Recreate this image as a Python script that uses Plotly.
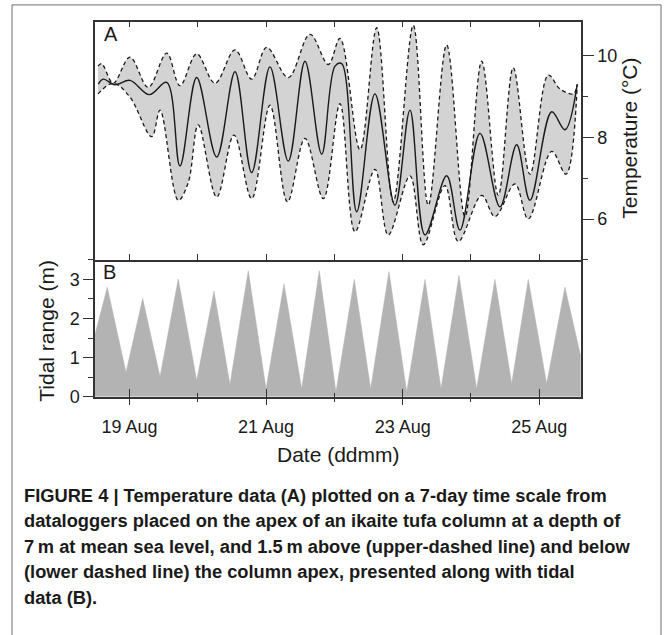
import numpy as np
import pandas as pd
import plotly.graph_objects as go

# ---- Temperature (panel A): time as day of August, values in °C ----
upper_day = [18.539, 18.593, 18.763, 19.007, 19.275, 19.545, 19.739, 19.984, 20.252, 20.545,
             20.789, 21.009, 21.325, 21.643, 21.911, 22.082, 22.375, 22.619, 22.862, 23.155,
             23.375, 23.644, 23.912, 24.157, 24.400, 24.619, 24.864, 25.132, 25.303, 25.498, 25.556]
upper_temp = [9.75, 9.81, 9.33, 9.97, 9.23, 10.07, 9.27, 10.05, 9.33, 10.15,
              9.43, 10.21, 9.47, 10.53, 9.79, 10.43, 7.70, 10.69, 6.42, 10.75,
              6.34, 10.27, 6.06, 9.87, 6.58, 9.71, 7.10, 9.53, 9.19, 9.07, 9.29]

mid_day = [18.543, 18.616, 18.788, 19.007, 19.290, 19.545, 19.739, 19.984, 20.277, 20.545,
           20.789, 21.057, 21.325, 21.570, 21.814, 22.009, 22.107, 22.327, 22.594, 22.887,
           23.107, 23.327, 23.644, 23.839, 24.132, 24.425, 24.669, 24.864, 25.182, 25.376, 25.556]
mid_temp = [9.31, 9.43, 9.29, 9.40, 9.05, 9.35, 7.30, 9.47, 7.52, 9.61,
            7.14, 9.73, 7.42, 9.87, 7.59, 9.75, 9.81, 6.18, 9.07, 6.34,
            8.67, 5.61, 7.06, 5.73, 8.10, 6.30, 7.82, 6.46, 8.63, 8.19, 9.31]

lower_day = [18.539, 18.763, 19.007, 19.325, 19.447, 19.714, 19.861, 20.007, 20.277, 20.530,
             20.789, 21.057, 21.313, 21.570, 21.838, 22.082, 22.302, 22.594, 22.789, 23.107,
             23.302, 23.619, 23.814, 24.157, 24.351, 24.644, 24.839, 25.182, 25.391, 25.556]
lower_temp = [9.07, 9.33, 8.99, 8.02, 8.67, 6.46, 6.90, 8.31, 6.54, 8.06,
              6.50, 8.79, 6.42, 7.98, 6.50, 8.83, 5.69, 7.22, 5.61, 7.06,
              5.37, 6.82, 5.45, 6.58, 6.06, 6.86, 6.00, 7.66, 7.10, 9.29]

# ---- Tidal range (panel B): alternating high/low water, metres ----
tide_day = [18.495, 18.675, 18.949, 19.193, 19.447, 19.714, 19.984, 20.237, 20.471, 20.739,
            20.999, 21.262, 21.521, 21.779, 22.023, 22.291, 22.531, 22.799, 23.059, 23.327,
            23.561, 23.824, 24.083, 24.351, 24.596, 24.839, 25.108, 25.376, 25.606]
tide_m = [1.59, 2.80, 0.62, 2.51, 0.51, 3.01, 0.41, 2.70, 0.31, 3.22,
          0.20, 2.89, 0.20, 3.22, 0.12, 3.00, 0.20, 3.20, 0.12, 3.00,
          0.20, 3.10, 0.20, 3.00, 0.33, 3.00, 0.33, 2.80, 1.04]

x_span_days = [18.495, 25.611]
temp_ticks = [6, 8, 10]
tide_ticks = [0, 1, 2, 3]

caption_lines = [
    "FIGURE 4 | Temperature data (A) plotted on a 7-day time scale from",
    "dataloggers placed on the apex of an ikaite tufa column at a depth of",
    "7\u2009m at mean sea level, and 1.5\u2009m above (upper-dashed line) and below",
    "(lower dashed line) the column apex, presented along with tidal",
    "data (B).",
]

BASE = pd.Timestamp("2013-08-01")


def to_time(days):
    return BASE + pd.to_timedelta(np.asarray(days, dtype=float) - 1.0, unit="D")


W, H = 667, 635


def px(x):
    return x / W


def py(y):
    return 1 - y / H


INK = "#1a1a1a"
AX = "#333333"
SANS = "Liberation Sans"

fig = go.Figure()

# Band between the upper and lower loggers
fig.add_trace(go.Scatter(x=to_time(lower_day), y=lower_temp, mode="lines",
                         line=dict(color=INK, width=1.3, dash="4px,3px", shape="spline", smoothing=1.0),
                         xaxis="x", yaxis="y", showlegend=False))
fig.add_trace(go.Scatter(x=to_time(upper_day), y=upper_temp, mode="lines", fill="tonexty",
                         fillcolor="#d3d3d3",
                         line=dict(color=INK, width=1.3, dash="4px,3px", shape="spline", smoothing=1.0),
                         xaxis="x", yaxis="y", showlegend=False))
fig.add_trace(go.Scatter(x=to_time(mid_day), y=mid_temp, mode="lines",
                         line=dict(color=INK, width=1.4, shape="spline", smoothing=1.0),
                         xaxis="x", yaxis="y", showlegend=False))

# Tidal range
fig.add_trace(go.Scatter(x=to_time(tide_day), y=tide_m, mode="lines", fill="tozeroy",
                         fillcolor="#b3b3b3", line=dict(color="#b3b3b3", width=0.5),
                         xaxis="x2", yaxis="y2", showlegend=False))

xr = list(to_time(x_span_days))
DAY = 86400000
dom_x = [px(95), px(581)]

fig.update_layout(
    width=W, height=H, autosize=False,
    margin=dict(l=0, r=0, t=0, b=0),
    paper_bgcolor="white", plot_bgcolor="white",
    font=dict(family=SANS, color=INK),
    xaxis=dict(domain=dom_x, anchor="y", range=xr, type="date",
               showticklabels=False, ticks="inside", ticklen=6, tickwidth=1.2, tickcolor=AX,
               dtick=DAY, tick0="2013-08-19",
               showline=True, linecolor=AX, linewidth=1.5, mirror="ticks", showgrid=False, zeroline=False),
    yaxis=dict(domain=[py(264), py(22)], anchor="x", range=[5.0, 10.84], side="right",
               tickvals=temp_ticks, ticks="outside", ticklen=11, tickwidth=1.2, tickcolor=AX,
               minor=dict(dtick=1, tick0=0, ticks="outside", ticklen=5, tickwidth=1.2, tickcolor=AX),
               tickfont=dict(size=18, family=SANS, color=INK),
               showline=True, linecolor=AX, linewidth=1.5, mirror=True, showgrid=False, zeroline=False),
    xaxis2=dict(domain=dom_x, anchor="y2", range=xr, type="date",
                dtick=2 * DAY, tick0="2013-08-19", tickformat="%d %b",
                ticks="outside", ticklen=7, tickwidth=1.2, tickcolor=AX,
                minor=dict(dtick=DAY, ticks="outside", ticklen=4, tickwidth=1.2, tickcolor=AX),
                tickfont=dict(size=18, family=SANS, color=INK), ticklabelstandoff=6,
                showline=True, linecolor=AX, linewidth=1.5, mirror=False, showgrid=False, zeroline=False),
    xaxis3=dict(domain=dom_x, anchor="y2", overlaying="x2", range=xr, type="date",
                dtick=2 * DAY, tick0="2013-08-19", showticklabels=False,
                ticks="inside", ticklen=8, tickwidth=1.2, tickcolor=AX,
                minor=dict(dtick=DAY, ticks="inside", ticklen=4, tickwidth=1.2, tickcolor=AX),
                showline=False, showgrid=False, zeroline=False),
    yaxis2=dict(domain=[py(403), py(264)], anchor="x2", range=[0, 3.5],
                tickvals=tide_ticks, ticks="outside", ticklen=10, tickwidth=1.2, tickcolor=AX,
                minor=dict(dtick=0.5, tick0=0, ticks="outside", ticklen=5, tickwidth=1.2, tickcolor=AX),
                tickfont=dict(size=18, family=SANS, color=INK),
                showline=True, linecolor=AX, linewidth=1.5, mirror=True, showgrid=False, zeroline=False),
)

# keep the overlay axis present so its inside ticks are drawn
fig.add_trace(go.Scatter(x=xr, y=[None, None], xaxis="x3", yaxis="y2", showlegend=False,
                         hoverinfo="skip"))

annots = [
    dict(text="A", x=px(102), y=py(35), xanchor="left", yanchor="middle",
         font=dict(size=20, family=SANS, color=INK)),
    dict(text="B", x=px(101), y=py(276), xanchor="left", yanchor="middle",
         font=dict(size=20, family=SANS, color=INK)),
    dict(text="Temperature (°C)", x=px(630), y=py(141), textangle=-90,
         xanchor="center", yanchor="middle", font=dict(size=21, family=SANS, color=INK)),
    dict(text="Tidal range (m)", x=px(47), y=py(336), textangle=-90,
         xanchor="center", yanchor="middle", font=dict(size=21, family=SANS, color=INK)),
    dict(text="Date (ddmm)", x=px(338), y=py(462), xanchor="center", yanchor="middle",
         font=dict(size=21, family=SANS, color=INK)),
]
cap_y0, cap_step = 503, 26
for i, line in enumerate(caption_lines):
    annots.append(dict(text="<b>" + line + "</b>", x=px(22), y=py(cap_y0 + i * cap_step),
                       xanchor="left", yanchor="middle", align="left",
                       font=dict(size=18.3, family=SANS, color=INK)))
for a in annots:
    a.update(xref="paper", yref="paper", showarrow=False)
fig.update_layout(annotations=annots)

# Outer figure frame
fig.add_shape(type="rect", xref="paper", yref="paper",
              x0=px(12), x1=px(661), y0=-0.05, y1=py(5),
              line=dict(color="#6e6e6e", width=1), fillcolor="rgba(0,0,0,0)", layer="below")

fig.write_html("out.html")
